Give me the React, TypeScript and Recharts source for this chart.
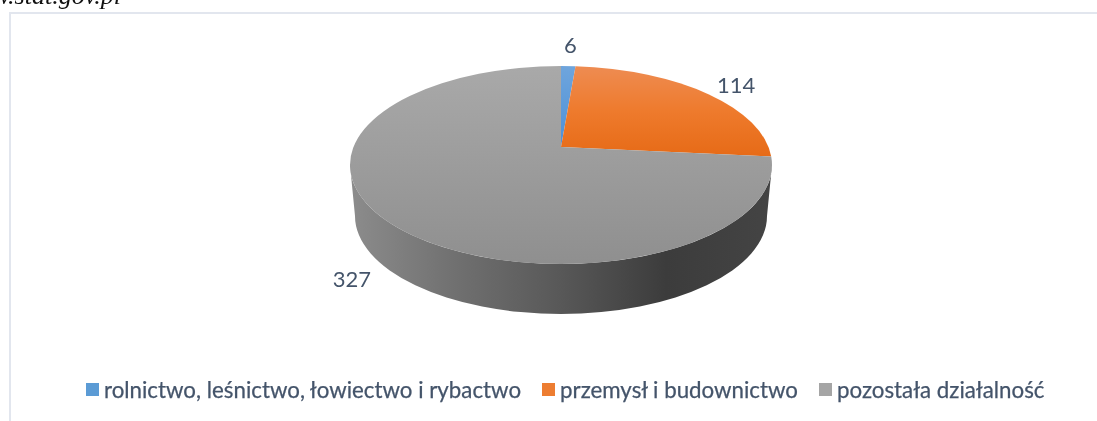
import { Legend, Pie, PieChart } from 'recharts'

const categories = ['rolnictwo, leśnictwo, łowiectwo i rybactwo', 'przemysł i budownictwo', 'pozostała działalność']
const counts = [6, 114, 327]
const data = categories.map((name, i) => ({ name, value: counts[i] }))

const COLORS = ['#5b9bd5', '#ed7d31', '#a5a5a5']
const TEXT_COLOR = '#44546a'
const FONT = 'Lato, "Open Sans", sans-serif'

// the pie is tilted: the apex sits above the centre of the rim ellipse
const RX = 211
const RY = 99
const RIM_DROP = 18
const SKEW = 0.817
const DEPTH = 51
const LABEL_OFFSETS = [
  [2, -22],
  [33, -7],
  [-31, 60],
]

const rimAngle = (deg: number) => {
  const half = (deg * Math.PI) / 360
  return 2 * Math.atan2(SKEW * Math.sin(half), Math.cos(half))
}

const rimPoint = (cx: number, cy: number, phi: number, rx = RX, ry = RY) => ({
  x: cx + rx * Math.sin(phi),
  y: cy + RIM_DROP - ry * Math.cos(phi),
})

function Slice3D(props: any) {
  const { cx, cy, startAngle, endAngle, index } = props
  const a = rimAngle(90 - startAngle)
  const b = rimAngle(90 - endAngle)
  const p = rimPoint(cx, cy, a)
  const q = rimPoint(cx, cy, b)
  const large = b - a > Math.PI ? 1 : 0
  const top = `M${cx},${cy} L${p.x},${p.y} A${RX},${RY} 0 ${large} 1 ${q.x},${q.y} Z`

  const wallFrom = Math.max(a, Math.PI / 2)
  const wallTo = Math.min(b, (3 * Math.PI) / 2)
  let wall = null
  if (wallTo > wallFrom) {
    const w1 = rimPoint(cx, cy, wallFrom)
    const w2 = rimPoint(cx, cy, wallTo)
    const low1 = rimPoint(cx, cy + DEPTH, wallFrom, RX - 5, RY - 1)
    const low2 = rimPoint(cx, cy + DEPTH, wallTo, RX - 5, RY - 1)
    wall = (
      <path
        d={`M${w1.x},${w1.y} A${RX},${RY} 0 0 1 ${w2.x},${w2.y} L${low2.x},${low2.y} A${RX - 5},${RY - 1} 0 0 0 ${low1.x},${low1.y} Z`}
        fill="url(#wallFill)"
      />
    )
  }
  return (
    <g>
      {wall}
      <path d={top} fill={`url(#top${index})`} />
    </g>
  )
}

function sliceLabel(props: any) {
  const { cx, cy, midAngle, index, value } = props
  const pt = rimPoint(cx, cy, rimAngle(90 - midAngle))
  const [dx, dy] = LABEL_OFFSETS[index]
  return (
    <text x={pt.x + dx} y={pt.y + dy} textAnchor="middle" dominantBaseline="central" fill={TEXT_COLOR} fontSize={22} fontFamily={FONT}>
      {value}
    </text>
  )
}

function LegendRow({ payload }: any) {
  return (
    <div style={{ display: 'flex', gap: 21, fontFamily: FONT, fontSize: 22.3, color: TEXT_COLOR, whiteSpace: 'nowrap', WebkitTextStroke: '0.25px #44546a' }}>
      {(payload ?? []).map((entry: any, i: number) => (
        <div key={entry.value} style={{ display: 'flex', alignItems: 'center', gap: 5 }}>
          <span style={{ width: 13, height: 13, background: COLORS[i], display: 'inline-block' }} />
          <span>{entry.value}</span>
        </div>
      ))}
    </div>
  )
}

export default function App() {
  return (
    <div style={{ position: 'relative', width: 1097, height: 421, overflow: 'hidden', background: '#fff', filter: 'blur(0.4px)' }}>
      <style>{'body{margin:0}'}</style>
      <div
        style={{
          position: 'absolute',
          left: -100,
          width: 221,
          top: -19,
          textAlign: 'right',
          fontFamily: '"Liberation Serif", serif',
          fontStyle: 'italic',
          fontSize: 26,
          lineHeight: '30px',
          color: '#111',
        }}
      >
        www.stat.gov.pl
      </div>
      <div style={{ position: 'absolute', left: 9, top: 12, width: 1100, height: 420, borderTop: '2px solid #e2e6ee', borderLeft: '2px solid #e2e6ee' }} />
      <PieChart width={1097} height={421} margin={{ top: 0, right: 0, bottom: 0, left: 0 }} style={{ position: 'absolute', left: 0, top: 0 }}>
        <defs>
          <linearGradient id="top0" gradientUnits="userSpaceOnUse" x1="0" y1="66" x2="0" y2="147">
            <stop offset="0" stopColor="#6fa5dc" />
            <stop offset="1" stopColor="#4c90d8" />
          </linearGradient>
          <linearGradient id="top1" gradientUnits="userSpaceOnUse" x1="0" y1="66" x2="0" y2="158">
            <stop offset="0" stopColor="#ee8c52" />
            <stop offset="0.5" stopColor="#ee7a2c" />
            <stop offset="1" stopColor="#e66a16" />
          </linearGradient>
          <linearGradient id="top2" gradientUnits="userSpaceOnUse" x1="0" y1="66" x2="0" y2="264">
            <stop offset="0" stopColor="#a9a9a9" />
            <stop offset="1" stopColor="#8f8f8f" />
          </linearGradient>
          <linearGradient id="wallFill" gradientUnits="userSpaceOnUse" x1="350" y1="0" x2="772" y2="0">
            <stop offset="0" stopColor="#8c8c8c" />
            <stop offset="0.25" stopColor="#707070" />
            <stop offset="0.5" stopColor="#585858" />
            <stop offset="0.75" stopColor="#3c3c3c" />
            <stop offset="1" stopColor="#444444" />
          </linearGradient>
        </defs>
        <Pie
          data={data}
          dataKey="value"
          nameKey="name"
          cx={561}
          cy={147}
          outerRadius={RX}
          startAngle={90}
          endAngle={-270}
          paddingAngle={0}
          stroke="none"
          shape={Slice3D}
          label={sliceLabel}
          labelLine={false}
          isAnimationActive={false}
        />
        <Legend
          content={<LegendRow />}
          itemSorter={null}
          wrapperStyle={{ position: 'absolute', left: 86, top: 376, width: 'auto', bottom: 'auto' }}
        />
      </PieChart>
    </div>
  )
}
